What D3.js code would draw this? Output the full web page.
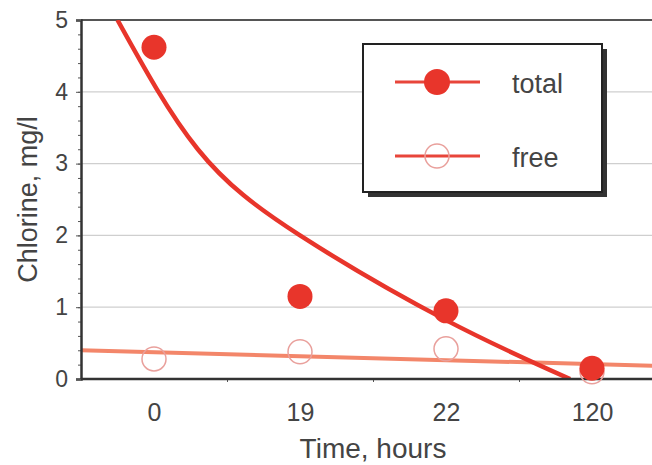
<!DOCTYPE html>
<html>
<head>
<meta charset="utf-8">
<script src="https://cdn.jsdelivr.net/npm/d3@7"></script>
<style>
  body { margin: 0; background: #fff; }
  text { font-family: "Liberation Sans", Arial, Helvetica, sans-serif; fill: #444; }
</style>
</head>
<body>
<script>
var svgWidth = 652;
var svgHeight = 465;

// categories on the x axis (hours)
var timeLabels = ["0", "19", "22", "120"];

// measured chlorine, mg/l
var totalValues = [4.62, 1.15, 0.95, 0.15];
var freeValues = [0.28, 0.38, 0.42, 0.10];

// trend lines: [category position, mg/l]
var totalTrend = [[-0.25, 5.0], [0.3, 3.2], [1, 2.0], [2, 0.82], [2.85, 0]];
var freeTrend = [[-0.5, 0.40], [3.5, 0.18]];

var yTicks = [0, 1, 2, 3, 4, 5];

var margin = { top: 20, left: 81, bottom: 86 };
var plotBottom = svgHeight - margin.bottom;

var svg = d3.select("body").append("svg")
    .attr("width", svgWidth)
    .attr("height", svgHeight);

var x = d3.scaleLinear().domain([-0.5, 3.5]).range([81, 665]);
var y = d3.scaleLinear().domain([0, 5]).range([plotBottom, margin.top]);

// grid lines
svg.append("g").selectAll("line")
    .data([1, 2, 3, 4])
    .enter().append("line")
    .attr("x1", x(-0.5)).attr("x2", svgWidth)
    .attr("y1", d => y(d)).attr("y2", d => y(d))
    .attr("stroke", "#cfcfcf").attr("stroke-width", 1.2);

// top frame line
svg.append("line")
    .attr("x1", x(-0.5)).attr("x2", svgWidth)
    .attr("y1", y(5)).attr("y2", y(5))
    .attr("stroke", "#555").attr("stroke-width", 2);

// clip for the trend curves
svg.append("clipPath").attr("id", "plotClip")
  .append("rect")
    .attr("x", x(-0.5)).attr("y", y(5))
    .attr("width", svgWidth - x(-0.5)).attr("height", y(0) - y(5));

var line = d3.line()
    .x(d => x(d[0]))
    .y(d => y(d[1]));

svg.append("path")
    .datum(freeTrend)
    .attr("clip-path", "url(#plotClip)")
    .attr("d", line)
    .attr("fill", "none")
    .attr("stroke", "#f3866a")
    .attr("stroke-width", 4);

svg.append("path")
    .datum(totalTrend)
    .attr("clip-path", "url(#plotClip)")
    .attr("d", line.curve(d3.curveNatural))
    .attr("fill", "none")
    .attr("stroke", "#e8352b")
    .attr("stroke-width", 4.5);

// y axis with minor ticks
var yMinor = d3.range(0, 5.01, 0.2).map(d => +d.toFixed(1));
svg.append("g")
    .attr("transform", `translate(${x(-0.5)},0)`)
    .call(d3.axisLeft(y).tickValues(yMinor).tickSize(3).tickFormat(""))
    .call(g => g.select(".domain").remove())
    .call(g => g.selectAll("line").attr("stroke", "#555"));

var yAxis = svg.append("g")
    .attr("transform", `translate(${x(-0.5)},0)`)
    .call(d3.axisLeft(y).tickValues(yTicks).tickSize(5).tickPadding(8).tickFormat(d3.format("d")));
yAxis.select(".domain").attr("stroke", "#333").attr("stroke-width", 2.5);
yAxis.selectAll("line").attr("stroke", "#555");
yAxis.selectAll("text").style("font-size", "23px").attr("fill", "#444");

// x axis
var xAxis = svg.append("g")
    .attr("transform", `translate(0,${plotBottom})`)
    .call(d3.axisBottom(x).tickValues([0.5, 1.5, 2.5]).tickSize(3).tickFormat(""));
xAxis.select(".domain").remove();
xAxis.selectAll("line").attr("stroke", "#555");

svg.append("line")
    .attr("x1", x(-0.5)).attr("x2", svgWidth)
    .attr("y1", plotBottom).attr("y2", plotBottom)
    .attr("stroke", "#333").attr("stroke-width", 2.5);

var xLabels = svg.append("g")
    .attr("transform", `translate(0,${plotBottom})`)
    .call(d3.axisBottom(x).tickValues(d3.range(timeLabels.length)).tickSize(0).tickPadding(24)
        .tickFormat(i => timeLabels[i]));
xLabels.select(".domain").remove();
xLabels.selectAll("text").style("font-size", "25px").attr("fill", "#444");

// axis titles
svg.append("text")
    .attr("x", (x(-0.5) + x(3.5)) / 2)
    .attr("y", 458)
    .attr("text-anchor", "middle")
    .style("font-size", "28px")
    .text("Time, hours");

svg.append("text")
    .attr("transform", `translate(37,${(y(0) + y(5)) / 2}) rotate(-90)`)
    .attr("text-anchor", "middle")
    .style("font-size", "27px")
    .text("Chlorine, mg/l");

// data points
svg.append("g").selectAll("circle")
    .data(freeValues)
    .enter().append("circle")
    .attr("cx", (d, i) => x(i))
    .attr("cy", d => y(d))
    .attr("r", 12)
    .attr("fill", "none")
    .attr("stroke", "#e9a09c")
    .attr("stroke-width", 1.5);

svg.append("g").selectAll("circle")
    .data(totalValues)
    .enter().append("circle")
    .attr("cx", (d, i) => x(i))
    .attr("cy", d => y(d))
    .attr("r", 12.5)
    .attr("fill", "#e8352b");

// legend
var legend = svg.append("g").attr("transform", "translate(363,44)");
legend.append("rect")
    .attr("x", 5).attr("y", 5).attr("width", 239).attr("height", 148)
    .attr("fill", "#333");
legend.append("rect")
    .attr("width", 239).attr("height", 148)
    .attr("fill", "#fff").attr("stroke", "#222").attr("stroke-width", 2);

var legendItems = [
    { name: "total", y: 38, filled: true },
    { name: "free", y: 112, filled: false }
];
legendItems.forEach(item => {
    legend.append("line")
        .attr("x1", 32).attr("x2", 117)
        .attr("y1", item.y).attr("y2", item.y)
        .attr("stroke", "#e8453a").attr("stroke-width", 3);
    legend.append("circle")
        .attr("cx", 74).attr("cy", item.y)
        .attr("r", item.filled ? 13 : 12)
        .attr("fill", item.filled ? "#e8352b" : "none")
        .attr("stroke", item.filled ? "none" : "#e9a09c")
        .attr("stroke-width", 1.5);
    legend.append("text")
        .attr("x", 149).attr("y", item.y + 11)
        .style("font-size", "27px")
        .text(item.name);
});
</script>
</body>
</html>
